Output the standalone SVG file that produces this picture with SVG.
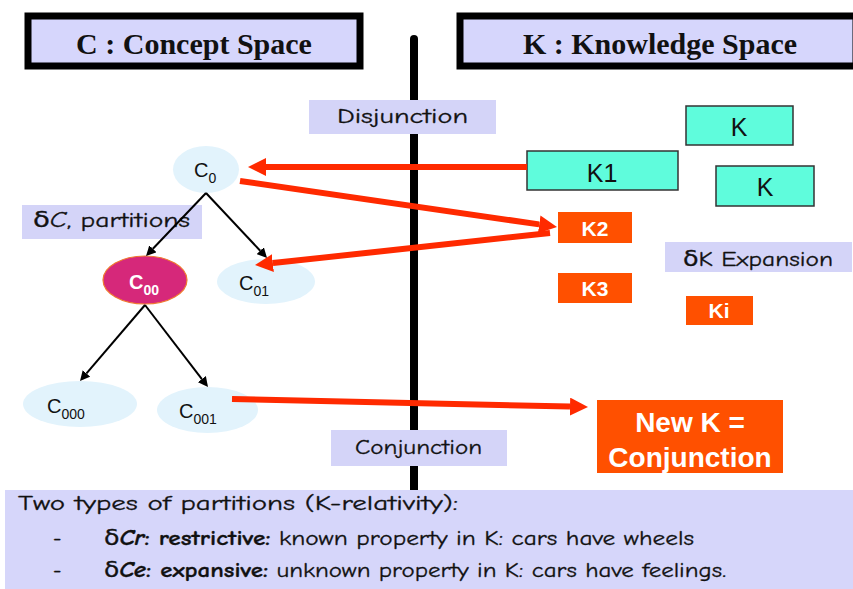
<svg xmlns="http://www.w3.org/2000/svg" width="853" height="589" viewBox="0 0 853 589">
<style>
.title{fill:#d6d6fc;stroke:#000;stroke-width:7}
.ttext{font-family:"Liberation Serif",serif;font-weight:bold;font-size:30px;fill:#111;text-anchor:middle}
.lab{fill:#d4d4f8}
.ltext{font-family:"Comic Sans MS","Comic Neue","DejaVu Sans",sans-serif;font-size:21px;fill:#111;stroke:#111;stroke-width:0.3}
.cnode{fill:#e2f3fc}
.ctext{font-family:"Liberation Sans",Arial,sans-serif;font-size:20px;fill:#111}
.sub{font-size:14px}
.kbox{fill:#5ffcdc;stroke:#333;stroke-width:1.5}
.ktext{font-family:"Liberation Sans",Arial,sans-serif;font-size:25px;fill:#111;text-anchor:middle}
.obox{fill:#ff5000}
.otext{font-family:"Liberation Sans",Arial,sans-serif;font-weight:bold;font-size:21px;fill:#fff;text-anchor:middle}
.red{stroke:#ff2a00;stroke-width:6;fill:none;marker-end:url(#rh)}
.blk{stroke:#000;stroke-width:2;fill:none;marker-end:url(#bh)}
.btext{font-family:"Comic Sans MS","Comic Neue","DejaVu Sans",sans-serif;font-size:21px;fill:#111;stroke:#111;stroke-width:0.3}
</style>
<defs>
<marker id="rh" markerUnits="userSpaceOnUse" markerWidth="18" markerHeight="18" refX="0" refY="9" orient="auto"><path d="M0,0 L18,9 L0,18 z" fill="#ff2a00"/></marker>
<marker id="bh" markerUnits="userSpaceOnUse" markerWidth="10" markerHeight="10" refX="0" refY="5" orient="auto"><path d="M0,0 L10,5 L0,10 z" fill="#000"/></marker>
</defs>
<rect width="853" height="589" fill="#fff"/>
<g id="title-c"><rect class="title" x="28" y="16" width="332" height="50"/><text class="ttext" x="194" y="54">C : Concept Space</text></g>
<g id="title-k"><rect class="title" x="460" y="16" width="396" height="50"/><text class="ttext" x="660" y="54">K : Knowledge Space</text></g>
<line id="divider" x1="414" y1="39" x2="414" y2="492" stroke="#000" stroke-width="8" stroke-linecap="round"/>
<g id="label-disjunction"><rect class="lab" x="309" y="100" width="187" height="34"/><text class="ltext" x="337" y="123" textLength="131" lengthAdjust="spacingAndGlyphs">Disjunction</text></g>
<g id="label-conjunction"><rect class="lab" x="331" y="430" width="176" height="36"/><text class="ltext" x="355" y="454" textLength="127" lengthAdjust="spacingAndGlyphs">Conjunction</text></g>
<g id="label-partitions"><rect class="lab" x="22" y="205" width="180" height="34"/><text class="ltext" x="33" y="227" textLength="157" lengthAdjust="spacingAndGlyphs">δ<tspan font-style="italic">C</tspan>, partitions</text></g>
<g id="label-expansion"><rect class="lab" x="665" y="242" width="187" height="30"/><text class="ltext" x="683" y="266" textLength="150" lengthAdjust="spacingAndGlyphs">δK Expansion</text></g>
<g id="c0"><ellipse class="cnode" cx="206" cy="169.5" rx="33" ry="23.5"/><text class="ctext" x="194" y="177">C<tspan class="sub" dy="6">0</tspan></text></g>
<g id="c00"><ellipse cx="145" cy="280" rx="42" ry="24" fill="#d6287a" stroke="#f07a30" stroke-width="1.2"/><text class="ctext" x="129" y="289" font-weight="bold" style="fill:#fff">C<tspan class="sub" dy="6">00</tspan></text></g>
<g id="c01"><ellipse class="cnode" cx="266" cy="281.5" rx="49" ry="22.5"/><text class="ctext" x="239" y="290">C<tspan class="sub" dy="6">01</tspan></text></g>
<g id="c000"><ellipse class="cnode" cx="80" cy="404" rx="57" ry="23"/><text class="ctext" x="47" y="413">C<tspan class="sub" dy="6">000</tspan></text></g>
<g id="c001"><ellipse class="cnode" cx="207.5" cy="410" rx="50.5" ry="23"/><text class="ctext" x="179" y="418">C<tspan class="sub" dy="6">001</tspan></text></g>
<g id="k-top"><rect class="kbox" x="686" y="106" width="107" height="39"/><text class="ktext" x="739" y="136">K</text></g>
<g id="k1"><rect class="kbox" x="527" y="151" width="151" height="39"/><text class="ktext" x="602" y="182">K1</text></g>
<g id="k-mid"><rect class="kbox" x="716" y="166" width="98" height="40"/><text class="ktext" x="765" y="196">K</text></g>
<g id="k2"><rect class="obox" x="558" y="212" width="74" height="31"/><text class="otext" x="595" y="236">K2</text></g>
<g id="k3"><rect class="obox" x="558" y="273" width="74" height="30"/><text class="otext" x="595" y="296">K3</text></g>
<g id="ki"><rect class="obox" x="686" y="296" width="67" height="29"/><text class="otext" x="719" y="318">Ki</text></g>
<g id="newk"><rect class="obox" x="597" y="400" width="186" height="73"/><text class="otext" x="690" y="432" style="font-size:28px">New K =</text><text class="otext" x="690" y="467" style="font-size:28px">Conjunction</text></g>
<g id="connectors">
<path class="blk" d="M206,193 L152.9,248.8"/>
<path class="blk" d="M206,193 L260.2,250.7"/>
<path class="blk" d="M145,305 L86.5,373.4"/>
<path class="blk" d="M145,305 L201.9,379.1"/>
<path class="red" d="M527,167 L266,167"/>
<path class="red" d="M240,181 L539.2,224.4"/>
<path class="red" d="M550,233 L272.9,263.1"/>
<path class="red" d="M232,399 L570,406.6"/>
</g>
<g id="note">
<rect x="5" y="490" width="848" height="99" fill="#d6d6fa"/>
<text class="btext" x="18" y="510" textLength="440" lengthAdjust="spacingAndGlyphs">Two types of partitions (K-relativity):</text>
<text class="btext" x="53" y="545">-</text>
<text class="btext" x="104" y="545" textLength="590" lengthAdjust="spacingAndGlyphs">δ<tspan font-weight="bold" font-style="italic">Cr</tspan><tspan font-weight="bold">: restrictive:</tspan> known property in K: cars have wheels</text>
<text class="btext" x="53" y="577">-</text>
<text class="btext" x="104" y="577" textLength="622" lengthAdjust="spacingAndGlyphs">δ<tspan font-weight="bold" font-style="italic">Ce</tspan><tspan font-weight="bold">: expansive:</tspan> unknown property in K: cars have feelings.</text>
</g>
</svg>
